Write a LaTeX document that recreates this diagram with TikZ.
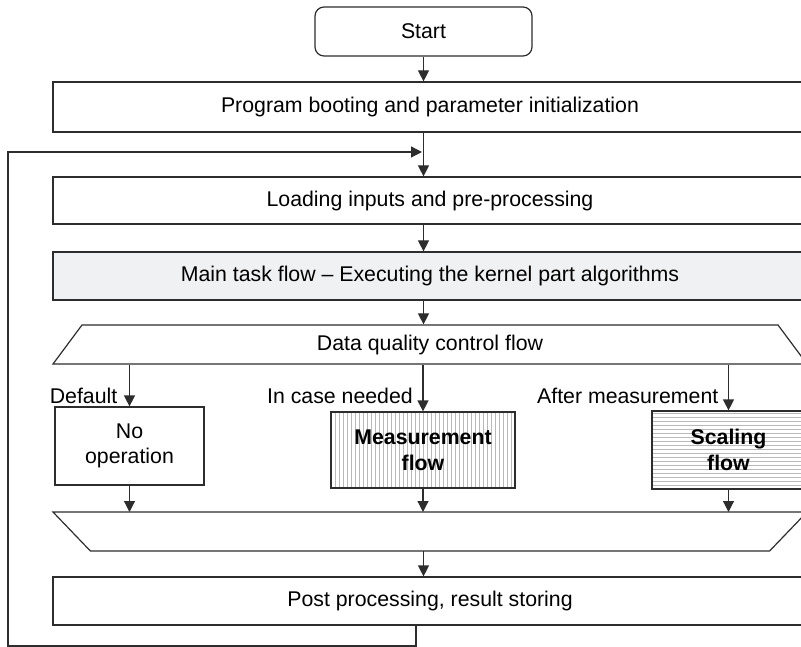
\documentclass[tikz,border=0pt]{standalone}
\usepackage{fontspec}
\setmainfont{Liberation Sans}
\usetikzlibrary{arrows.meta}
\usetikzlibrary{calc}
\usetikzlibrary{shapes.geometric}
\definecolor{lineGray}{RGB}{45, 45, 45}
\definecolor{taskGray}{RGB}{240, 241, 243}
\definecolor{hatchGray}{RGB}{185, 185, 185}
\newcommand\flowfont{\fontsize{21.3pt}{25.6pt}\selectfont}

\tikzset{
  box/.style={draw=lineGray, line width=1.2pt, fill=white, inner sep=0pt,
              align=center},
  wide/.style={box, minimum width=754pt},
  slanted/.style={draw=lineGray, line width=1.2pt, inner sep=0pt,
                  trapezium, trapezium angle=34.4, trapezium stretches body,
                  minimum width=754pt, minimum height=39pt},
  hatchline/.style={hatchGray, line width=0.8pt},
  vhatch/.style={path picture={
      \foreach \k in {0,4,...,200}
        \draw [hatchline] ([xshift=\k pt]path picture bounding box.south west)
          -- ([xshift=\k pt]path picture bounding box.north west);}},
  hhatch/.style={path picture={
      \foreach \k in {0,4,...,90}
        \draw [hatchline] ([yshift=\k pt]path picture bounding box.south west)
          -- ([yshift=\k pt]path picture bounding box.south east);}},
  flow/.style={->, draw=lineGray, line width=1.2pt}
}

\begin{document}
\begin{tikzpicture}[x=1pt, y=-1pt, >={Triangle[length=11pt, width=11pt]},
                    font=\flowfont]
      \path [use as bounding box, clip] (0,0) rectangle (801,647);

      \node [box, rounded corners=9pt, minimum width=217pt,
             minimum height=49pt] (start) at (423.5,31.5) {Start};
      \node [wide, minimum height=50pt] (boot) at (430,107)
            {Program booting and parameter initialization};
      \node [wide, minimum height=47pt] (load) at (430,200.5)
            {Loading inputs and pre-processing};
      \node [wide, fill=taskGray, minimum height=48pt] (task) at (430,276)
            {Main task flow -- Executing the kernel part algorithms};

      % quality control branches
      \node [slanted] (qc) at (430,344.5) {Data quality control flow};
      \node [box, minimum width=149pt, minimum height=78pt] (noop)
            at (129.5,446) {No\\operation};
      \node [box, vhatch, minimum width=184pt, minimum height=76pt,
             font=\flowfont\bfseries] (measure) at (423,450)
            {Measurement\\flow};
      \node [box, hhatch, minimum width=153pt, minimum height=78pt,
             font=\flowfont\bfseries] (scaling) at (728.5,450)
            {Scaling\\flow};
      \node [slanted, shape border rotate=180] (merge) at (430,531.5)
            {\strut};
      \coordinate (mergetop) at ($(merge.center)+(0,-19.5)$);
      \coordinate (mergebottom) at ($(merge.center)+(0,19.5)$);

      \node [wide, minimum height=48pt] (post) at (430,601)
            {Post processing, result storing};

      \node [anchor=east, inner sep=0pt] (deflabel)
            at ($(noop.north |- qc.south)+(-12,31)$) {Default};
      \node [anchor=east, inner sep=0pt] (neededlabel)
            at ($(measure.north |- qc.south)+(-10,31)$) {In case needed};
      \node [anchor=east, inner sep=0pt] (afterlabel)
            at ($(scaling.north |- qc.south)+(-10,31)$) {After measurement};

      \coordinate (loopout) at ([xshift=-14pt]post.south);
      \coordinate (loopjoin) at ($(start.south |- 0,152)+(-1.5,0)$);

      \draw [flow] (start.south) -- (start.south |- boot.north);
      \draw [flow] (boot.south -| start) -- (load.north -| start);
      \draw [flow] (load.south -| start) -- (task.north -| start);
      \draw [flow] (task.south -| start) -- (qc.north -| start);
      \foreach \b in {noop, measure, scaling} {
        \draw [flow] (qc.south -| \b) -- (\b.north);
        \draw [flow] (\b.south) -- (\b.south |- mergetop);
      }
      \draw [flow] (mergebottom -| start) -- (post.north -| start);
      % back to the loading step
      \draw [flow] (loopout) |- (8,646) |- (loopjoin);
    \end{tikzpicture}
\end{document}
